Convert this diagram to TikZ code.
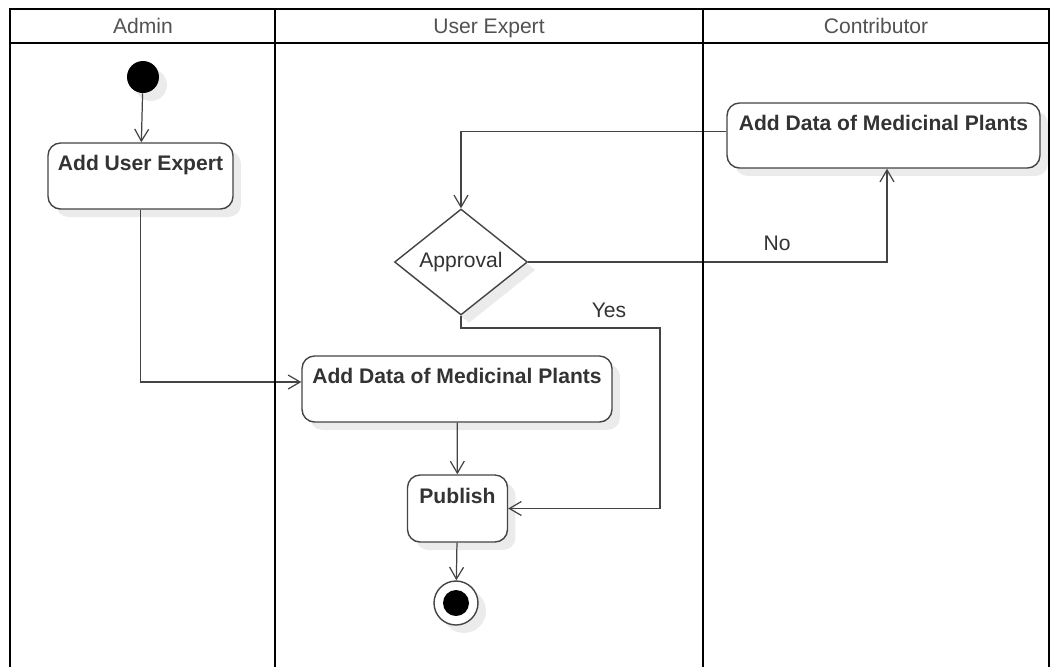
\documentclass[tikz,border=0pt]{standalone}
\usepackage{fontspec}
\setmainfont{Liberation Sans}
\usepackage{xcolor}
\usepackage{tikz}
\usetikzlibrary{shapes.geometric,arrows.meta,shadows}
\definecolor{linegray}{HTML}{444444}
\definecolor{textgray}{HTML}{333333}
\tikzstyle{lane}=[-, draw=black, line width=1.5pt]
\tikzstyle{lane title}=[text=textgray!85, font=\fontsize{12}{14.5}\selectfont, text height=1.6ex, text depth=0.3ex]
\tikzstyle{soft shadow}=[drop shadow={shadow xshift=0.16cm, shadow yshift=-0.16cm, fill=black!8, opacity=1}]
\tikzstyle{action}=[fill=white, draw=linegray, line width=0.8pt, rounded corners=0.25cm, align=center, text=textgray, font=\fontsize{12}{14.5}\selectfont\bfseries, soft shadow]
\tikzstyle{decision}=[fill=white, draw=linegray, line width=0.8pt, shape=diamond, inner sep=0pt, minimum width=2.66cm, minimum height=2.12cm, text=textgray, font=\fontsize{12}{14.5}\selectfont, soft shadow]
\tikzstyle{initial}=[fill=black, shape=circle, inner sep=0pt, minimum size=0.64cm, soft shadow]
\tikzstyle{final}=[fill=white, draw=linegray, line width=0.8pt, shape=circle, inner sep=0pt, minimum size=0.88cm, soft shadow]
\tikzstyle{final dot}=[fill=black, shape=circle, inner sep=0pt, minimum size=0.52cm]
\tikzstyle{guard}=[text=textgray, font=\fontsize{12}{14.5}\selectfont]
\tikzstyle{flow}=[-{Straight Barb[length=0.24cm, width=0.28cm]}, draw=linegray, line width=0.7pt]
\pgfdeclarelayer{nodelayer}
\pgfdeclarelayer{edgelayer}
\pgfsetlayers{nodelayer,edgelayer,main}

\begin{document}
\begin{tikzpicture}[x=0.02cm, y=-0.02cm]
	\useasboundingbox (0, 0) rectangle (1051, 667);
	% swimlanes
	\draw [style=lane] (10, 667) -- (10, 9) -- (1049, 9) -- (1049, 667);
	\draw [style=lane] (10, 43) -- (1049, 43);
	\draw [style=lane] (275, 9) -- (275, 667);
	\draw [style=lane] (703, 9) -- (703, 667);
	\node [style=lane title] (12) at (143, 27) {Admin};
	\node [style=lane title] (13) at (489, 27) {User Expert};
	\node [style=lane title] (14) at (876, 27) {Contributor};
	\begin{pgfonlayer}{nodelayer}
		\node [style=initial] (0) at (143, 77) {};
		\node [style=action, minimum width=3.7cm, minimum height=1.32cm] (1) at (140.5, 176) {Add User Expert\\~};
		\node [style=action, minimum width=6.2cm, minimum height=1.32cm] (2) at (457, 389) {Add Data of Medicinal Plants\\~};
		\node [style=action, minimum width=2cm, minimum height=1.34cm] (3) at (457.5, 508.5) {Publish\\~};
		\node [style=final] (4) at (456, 603) {};
		\node [style=final dot] (5) at (456, 603) {};
		\node [style=action, minimum width=6.26cm, minimum height=1.3cm] (6) at (883.5, 135.5) {Add Data of Medicinal Plants\\~};
		\node [style=decision] (7) at (461, 262) {Approval\\[0.3cm]~};
		\coordinate (9) at (660, 328);
		\node [style=guard] (10) at (609, 310) {Yes};
		\node [style=guard] (11) at (777, 243) {No};
	\end{pgfonlayer}
	\begin{pgfonlayer}{edgelayer}
		\draw [style=flow] (0) to (1);
		\draw [style=flow] (1) |- ([yshift=0.14cm]2.west);
		\draw [style=flow] (2) to (3);
		\draw [style=flow] (3) to (4);
		\draw [style=flow] ([yshift=0.08cm]6.west) -| (7);
		\draw [style=flow] (7) -| ([xshift=0.07cm]6.south);
		\draw [style=flow] (7) |- (9) |- (3);
	\end{pgfonlayer}
\end{tikzpicture}
\end{document}
